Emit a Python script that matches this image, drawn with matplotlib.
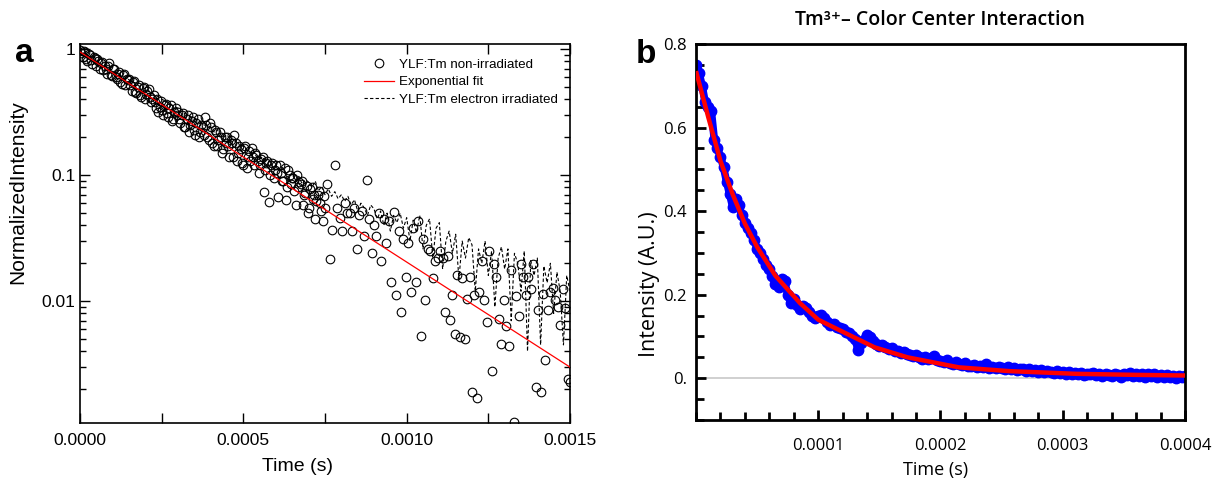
"""Two-panel decay figure: (a) YLF:Tm luminescence decay on log scale,
(b) Tm3+ - colour centre interaction decay on linear scale."""

import matplotlib.pyplot as plt
import matplotlib.ticker as mticker
import numpy as np

# ── Panel a data ─────────────────────────────────────────────────────────────
# non-irradiated sample, one reading every 7.5 us from 0 to 1.5 ms
dt_nonirr = 7.5e-6
nonirr_y = [
    0.98, 0.86, 0.95, 0.80, 0.90, 0.76, 0.85, 0.83, 0.70, 0.79,
    0.74, 0.64, 0.77, 0.61, 0.69, 0.58, 0.66, 0.53, 0.63, 0.58,
    0.58, 0.47, 0.56, 0.45, 0.52, 0.42, 0.50, 0.44, 0.48, 0.38,
    0.43, 0.34, 0.32, 0.39, 0.30, 0.37, 0.29, 0.36, 0.28, 0.34,
    0.32, 0.26, 0.31, 0.24, 0.30, 0.25, 0.29, 0.21, 0.28, 0.22,
    0.24, 0.29, 0.20, 0.26, 0.18, 0.23, 0.17, 0.22, 0.15, 0.20,
    0.20, 0.14, 0.18, 0.21, 0.13, 0.17, 0.125, 0.165, 0.115, 0.155,
    0.165, 0.12, 0.145, 0.105, 0.135, 0.073, 0.125, 0.061, 0.12, 0.095,
    0.12, 0.067, 0.105, 0.09, 0.063, 0.11, 0.085, 0.095, 0.058, 0.08,
    0.085, 0.058, 0.072, 0.050, 0.078, 0.065, 0.045, 0.07, 0.06, 0.043,
    0.055, 0.085, 0.0216, 0.037, 0.12, 0.055, 0.046, 0.036, 0.06, 0.05,
    0.05, 0.036, 0.055, 0.026, 0.048, 0.052, 0.033, 0.091, 0.045, 0.024,
    0.04, 0.033, 0.05, 0.021, 0.045, 0.029, 0.043, 0.0143, 0.051, 0.0112,
    0.036, 0.0082, 0.031, 0.0157, 0.029, 0.0119, 0.038, 0.0143, 0.043, 0.0053,
    0.031, 0.0102, 0.026, 0.025, 0.0152, 0.0207, 0.022, 0.025, 0.022, 0.0082,
    0.023, 0.0071, 0.0112, 0.0055, 0.016, 0.0052, 0.0153, 0.005, 0.0105, 0.0155,
    0.0019, 0.0112, 0.0017, 0.0119, 0.0207, 0.0102, 0.0069, 0.0249, 0.0028, 0.0199,
    0.0157, 0.0072, 0.0046, 0.0102, 0.0064, 0.0044, 0.0178, 0.0011, 0.011, 0.0077,
    0.0199, 0.0157, 0.0112, 0.0157, 0.0126, 0.0199, 0.0021, 0.0085, 0.0019, 0.0114,
    0.0034, 0.0085, 0.0119, 0.0127, 0.0102, 0.009, 0.0065, 0.0125, 0.0088, 0.0024,
    0.0023,
]
# extra readings half-way between the first 100 (0 - 0.75 ms)
nonirr_mid_y = [
    0.93, 0.97, 0.84, 0.91, 0.82, 0.87, 0.74, 0.80, 0.77, 0.68,
    0.70, 0.73, 0.62, 0.70, 0.60, 0.64, 0.55, 0.62, 0.52, 0.57,
    0.52, 0.55, 0.46, 0.50, 0.43, 0.49, 0.40, 0.47, 0.42, 0.40,
    0.38, 0.40, 0.35, 0.33, 0.36, 0.31, 0.34, 0.27, 0.32, 0.30,
    0.28, 0.30, 0.24, 0.28, 0.22, 0.27, 0.23, 0.26, 0.20, 0.25,
    0.21, 0.25, 0.19, 0.24, 0.17, 0.22, 0.19, 0.20, 0.16, 0.18,
    0.17, 0.19, 0.14, 0.18, 0.15, 0.16, 0.12, 0.17, 0.14, 0.13,
    0.14, 0.15, 0.13, 0.12, 0.14, 0.11, 0.13, 0.10, 0.125, 0.11,
    0.105, 0.12, 0.09, 0.115, 0.08, 0.10, 0.095, 0.075, 0.10, 0.088,
    0.09, 0.07, 0.082, 0.055, 0.08, 0.07, 0.062, 0.075, 0.052, 0.068,
]
nonirr_t = np.arange(len(nonirr_y)) * dt_nonirr
nonirr_mid_t = (np.arange(len(nonirr_mid_y)) + 0.5) * dt_nonirr

# electron irradiated sample, one reading every 10 us
dt_irr = 10e-6
irr_y = [
    0.95, 0.92, 0.88, 0.86, 0.82, 0.80, 0.77, 0.75, 0.72, 0.70,
    0.68, 0.66, 0.63, 0.61, 0.60, 0.57, 0.55, 0.54, 0.51, 0.50,
    0.48, 0.46, 0.45, 0.43, 0.42, 0.40, 0.39, 0.37, 0.36, 0.35,
    0.34, 0.32, 0.31, 0.30, 0.29, 0.28, 0.27, 0.26, 0.25, 0.25,
    0.24, 0.22, 0.23, 0.21, 0.20, 0.21, 0.19, 0.18, 0.19, 0.17,
    0.17, 0.16, 0.15, 0.16, 0.14, 0.135, 0.14, 0.12, 0.13, 0.115,
    0.12, 0.11, 0.115, 0.10, 0.095, 0.105, 0.09, 0.098, 0.085, 0.092,
    0.088, 0.08, 0.09, 0.075, 0.082, 0.07, 0.078, 0.068, 0.074, 0.065,
    0.07, 0.062, 0.068, 0.058, 0.064, 0.052, 0.06, 0.055, 0.048, 0.058,
    0.054, 0.045, 0.052, 0.04, 0.05, 0.036, 0.048, 0.042, 0.05, 0.038,
    0.046, 0.03, 0.044, 0.035, 0.048, 0.026, 0.04, 0.045, 0.022, 0.038,
    0.042, 0.018, 0.03, 0.036, 0.024, 0.034, 0.015, 0.03, 0.022, 0.032,
    0.028, 0.012, 0.026, 0.02, 0.03, 0.016, 0.025, 0.009, 0.022, 0.027,
    0.018, 0.026, 0.007, 0.024, 0.02, 0.012, 0.025, 0.004, 0.021, 0.016,
    0.022, 0.0045, 0.019, 0.014, 0.02, 0.008, 0.017, 0.012, 0.0045, 0.016,
    0.012,
]
irr_t = np.arange(len(irr_y)) * dt_irr

# exponential fit (straight line on the log axis)
fit_a_t = [0.0, 0.0015]
fit_a_y = [0.95, 0.003]

# ── Panel b data ─────────────────────────────────────────────────────────────
dt_b = 2.5e-6
tm_y = [
    0.75, 0.73, 0.70, 0.66, 0.65, 0.64, 0.57, 0.55, 0.53, 0.505,
    0.47, 0.44, 0.41, 0.43, 0.415, 0.39, 0.372, 0.36, 0.348, 0.33,
    0.31, 0.30, 0.285, 0.272, 0.262, 0.245, 0.225, 0.218, 0.238, 0.232,
    0.20, 0.18, 0.19, 0.175, 0.166, 0.172, 0.168, 0.158, 0.15, 0.145,
    0.148, 0.152, 0.143, 0.135, 0.128, 0.13, 0.122, 0.119, 0.117, 0.11,
    0.108, 0.10, 0.095, 0.068, 0.085, 0.092, 0.104, 0.098, 0.088, 0.082,
    0.078, 0.08, 0.074, 0.07, 0.072, 0.066, 0.064, 0.061, 0.063, 0.058,
    0.056, 0.052, 0.055, 0.05, 0.047, 0.051, 0.045, 0.048, 0.053, 0.044,
    0.041, 0.038, 0.043, 0.036, 0.035, 0.039, 0.033, 0.031, 0.036, 0.03,
    0.029, 0.032, 0.027, 0.03, 0.026, 0.033, 0.025, 0.028, 0.024, 0.027,
    0.025, 0.022, 0.027, 0.021, 0.024, 0.019, 0.023, 0.021, 0.018, 0.022,
    0.017, 0.02, 0.016, 0.019, 0.014, 0.018, 0.015, 0.013, 0.017, 0.012,
    0.015, 0.011, 0.014, 0.009, 0.013, 0.01, 0.012, 0.008, 0.011, 0.009,
    0.012, 0.007, 0.01, 0.006, 0.011, 0.008, 0.005, 0.009, 0.007, 0.004,
    0.011, 0.007, 0.012, 0.005, 0.01, 0.006, 0.011, 0.004, 0.009, 0.005,
    0.009, 0.004, 0.008, 0.002, 0.007, 0.003, 0.006, 0.0, 0.005, 0.002,
    0.005,
]
tm_t = np.arange(len(tm_y)) * dt_b

fit_b_t = [0.0, 10e-6, 20e-6, 30e-6, 40e-6, 50e-6, 65e-6, 85e-6, 100e-6,
           118e-6, 146e-6, 173e-6, 215e-6, 256e-6, 311e-6, 360e-6, 400e-6]
fit_b_y = [0.735, 0.625, 0.52, 0.44, 0.37, 0.314, 0.245, 0.18, 0.14,
           0.114, 0.074, 0.050, 0.026, 0.017, 0.0105, 0.008, 0.0065]

FONT_A = 'Liberation Sans'
FONT_B = ['Open Sans', 'DejaVu Sans']

fig = plt.figure(figsize=(12.13, 4.87), dpi=100)
fig.patch.set_facecolor('white')

# ── Panel a ──────────────────────────────────────────────────────────────────
ax = fig.add_axes([0.0660, 0.1314, 0.4039, 0.7783])
circ = dict(ms=6.2, mfc='none', mec='black', mew=0.8, zorder=3)
ax.plot(nonirr_t, nonirr_y, 'o', label='YLF:Tm non-irradiated', **circ)
ax.plot(nonirr_mid_t, nonirr_mid_y, 'o', **circ)
ax.plot(fit_a_t, fit_a_y, '-', color='red', lw=0.9,
        label='Exponential fit', zorder=4)
ax.plot(irr_t, irr_y, '--', color='black', lw=0.8, dashes=(3, 2),
        label='YLF:Tm electron irradiated', zorder=2)

ax.set_yscale('log')
ax.set_xlim(0, 0.0015)
ax.set_ylim(0.00108, 1.1)
ax.xaxis.set_major_locator(mticker.MultipleLocator(0.0005))
ax.xaxis.set_minor_locator(mticker.MultipleLocator(0.00025))
ax.xaxis.set_major_formatter(mticker.FormatStrFormatter('%.4f'))
ax.yaxis.set_major_locator(mticker.LogLocator(base=10))
ax.yaxis.set_minor_locator(mticker.LogLocator(base=10, subs=np.arange(2, 10)))
ax.yaxis.set_major_formatter(mticker.FuncFormatter(lambda v, p: f'{v:g}'))
ax.yaxis.set_minor_formatter(mticker.NullFormatter())
ax.tick_params(which='both', direction='in', top=True, right=True,
               labelsize=12.5, width=1)
ax.tick_params(which='major', length=7)
ax.tick_params(which='minor', axis='x', length=7)
ax.tick_params(which='minor', axis='y', length=4)
ax.tick_params(axis='x', pad=7)
for lbl in ax.get_xticklabels() + ax.get_yticklabels():
    lbl.set_fontfamily(FONT_A)
for sp in ax.spines.values():
    sp.set_linewidth(1.2)

ax.set_xlabel('Time (s)', fontsize=14, family=FONT_A)
ax.set_ylabel('NormalizedIntensity', fontsize=15, family=FONT_A)
ax.xaxis.set_label_coords(0.443, -0.093)
ax.yaxis.set_label_coords(-0.108, 0.61)

leg = ax.legend(loc='upper right', bbox_to_anchor=(0.9755, 0.961),
                frameon=False, numpoints=1, borderpad=0,
                borderaxespad=0, handlelength=2.2, handletextpad=0.4,
                labelspacing=0.38, prop={'family': FONT_A, 'size': 9.6})

fig.text(24 / 1213, 1 - 62 / 487, 'a', fontsize=24, fontweight='bold',
         family=FONT_A, ha='center', va='baseline')

# ── Panel b ──────────────────────────────────────────────────────────────────
bx = fig.add_axes([0.5738, 0.1376, 0.4031, 0.7721])
bx.axhline(0, color='#c8c8c8', lw=1.2, zorder=0)
bx.plot(tm_t, tm_y, '-', color='#0000ff', lw=5.5, zorder=2)
bx.plot(tm_t, tm_y, 'o', color='#0000ff', ms=7.5, zorder=2)
bx.plot(fit_b_t, fit_b_y, '-', color='#ff0000', lw=3.2, zorder=3,
        solid_capstyle='butt')

bx.set_xlim(0, 0.0004)
bx.set_ylim(-0.1, 0.8)
bx.set_xticks([0.0001, 0.0002, 0.0003, 0.0004])
bx.xaxis.set_minor_locator(mticker.MultipleLocator(0.00002))
bx.set_xticklabels(['0.0001', '0.0002', '0.0003', '0.0004'])
bx.set_yticks([0, 0.2, 0.4, 0.6, 0.8])
bx.set_yticklabels(['0.', '0.2', '0.4', '0.6', '0.8'])
bx.yaxis.set_minor_locator(mticker.MultipleLocator(0.05))
bx.tick_params(which='both', direction='in', width=2, labelsize=12,
               top=False, right=False)
bx.tick_params(axis='x', pad=13)
bx.tick_params(axis='y', pad=6.5)
bx.tick_params(which='major', length=7)
bx.tick_params(which='minor', length=5.5)
for lbl in bx.get_xticklabels() + bx.get_yticklabels():
    lbl.set_fontfamily(FONT_B)
for sp in bx.spines.values():
    sp.set_linewidth(2)

bx.set_xlabel('Time (s)', fontsize=13, family=FONT_B)
bx.set_ylabel('Intensity (A.U.)', fontsize=15.5, family=FONT_B)
bx.xaxis.set_label_coords(0.489, -0.109)
bx.yaxis.set_label_coords(-0.074, 0.36)
bx.text(0.499, 1.064, 'Tm³⁺– Color Center Interaction', transform=bx.transAxes,
        fontsize=14, family=FONT_B, fontweight='semibold',
        ha='center', va='center')

fig.text(646 / 1213, 1 - 63 / 487, 'b', fontsize=24, fontweight='bold',
         family=FONT_A, ha='center', va='baseline')

fig.savefig('out.png', dpi=100, facecolor='white')
